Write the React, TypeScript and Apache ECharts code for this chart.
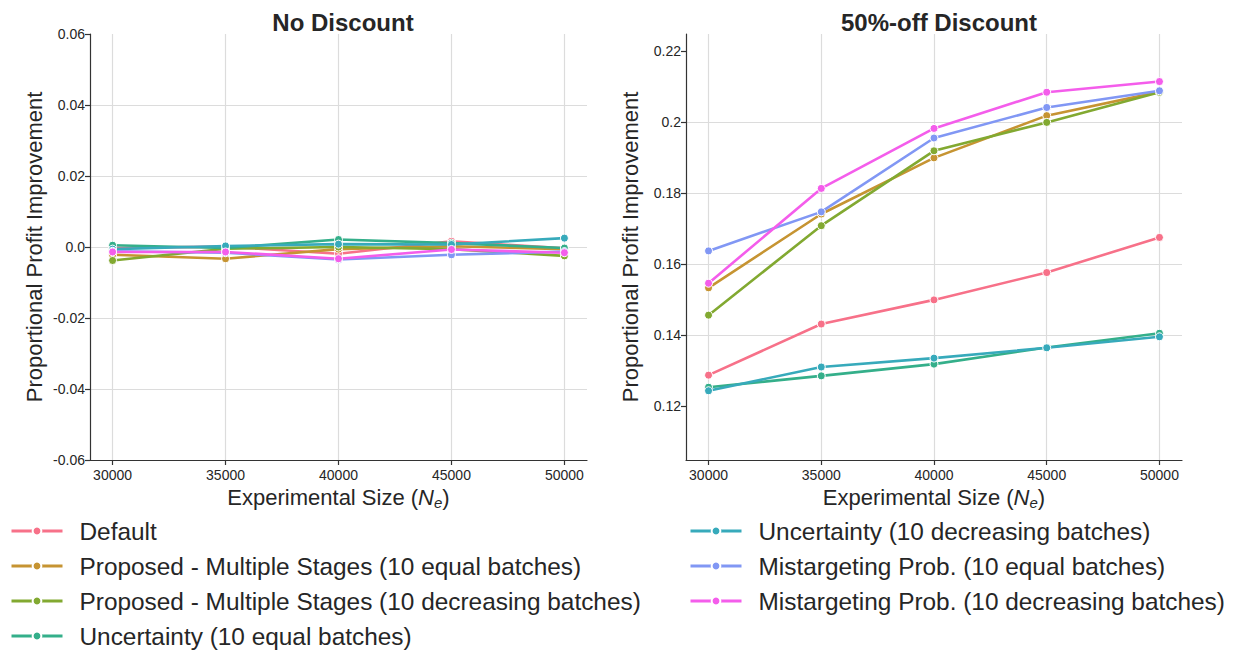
import React, { useEffect, useRef } from "react";
import * as echarts from "echarts";

// Experimental sizes on the x axis
const sizes = [30000, 35000, 40000, 45000, 50000];
const xTicks = [30000, 35000, 40000, 45000, 50000];

const seriesNames = [
  "Default",
  "Proposed - Multiple Stages (10 equal batches)",
  "Proposed - Multiple Stages (10 decreasing batches)",
  "Uncertainty (10 equal batches)",
  "Uncertainty (10 decreasing batches)",
  "Mistargeting Prob. (10 equal batches)",
  "Mistargeting Prob. (10 decreasing batches)",
];

const palette = ["#f77189", "#c69432", "#82a931", "#34af8a", "#37aabb", "#8197f4", "#f45deb"];

// No discount: proportional profit improvement
const noDefault = [-0.0003, 0.0001, -0.0019, 0.0016, -0.0004];
const noPropEqual = [-0.0022, -0.0033, -0.0006, 0.0002, -0.0006];
const noPropDecr = [-0.0038, -0.0005, 0.0, -0.0006, -0.0025];
const noUncEqual = [0.0005, -0.0003, 0.0021, 0.0011, -0.0003];
const noUncDecr = [-0.0006, 0.0003, 0.0008, 0.0007, 0.0025];
const noMisEqual = [-0.0012, -0.0016, -0.0035, -0.0022, -0.0013];
const noMisDecr = [-0.0014, -0.0014, -0.0033, -0.0007, -0.0016];

// 50%-off discount: proportional profit improvement
const offDefault = [0.1287, 0.1431, 0.1499, 0.1576, 0.1675];
const offPropEqual = [0.1533, 0.1741, 0.1899, 0.2018, 0.2085];
const offPropDecr = [0.1456, 0.1708, 0.1919, 0.1999, 0.2084];
const offUncEqual = [0.1253, 0.1285, 0.1318, 0.1365, 0.1405];
const offUncDecr = [0.1243, 0.131, 0.1335, 0.1364, 0.1395];
const offMisEqual = [0.1637, 0.1747, 0.1955, 0.2041, 0.2088];
const offMisDecr = [0.1546, 0.1813, 0.1982, 0.2084, 0.2114];

const leftYTicks = [-0.06, -0.04, -0.02, 0.0, 0.02, 0.04, 0.06];
const rightYTicks = [0.12, 0.14, 0.16, 0.18, 0.2, 0.22];

const noDiscount = [noDefault, noPropEqual, noPropDecr, noUncEqual, noUncDecr, noMisEqual, noMisDecr];
const offDiscount = [offDefault, offPropEqual, offPropDecr, offUncEqual, offUncDecr, offMisEqual, offMisDecr];

const FONT = "Liberation Sans, Arial, Helvetica, sans-serif";
const TEXT = "#262626";
const AXIS = "#333333";
const GRID = "#dcdcdc";

const fmtY = (v: number) => {
  let s = v.toFixed(2);
  if (s.endsWith("0")) s = s.slice(0, -1);
  return s;
};

function xAxisCfg(gridIndex: number) {
  return {
    type: "value",
    gridIndex,
    min: 29000,
    max: 51000,
    name: "Experimental Size ({i|N}{s|e})",
    nameLocation: "middle",
    nameGap: 24,
    nameTextStyle: {
      fontSize: 22,
      color: TEXT,
      fontFamily: FONT,
      rich: {
        i: { fontSize: 22, fontStyle: "italic", color: TEXT, fontFamily: FONT },
        s: { fontSize: 15, fontStyle: "italic", color: TEXT, fontFamily: FONT, padding: [10, 0, 0, 0] },
      },
    },
    axisLine: { show: true, onZero: false, lineStyle: { color: AXIS, width: 1.2 } },
    axisTick: { show: true, length: 5, lineStyle: { color: AXIS, width: 1.2 }, customValues: xTicks },
    axisLabel: { fontSize: 14, color: TEXT, fontFamily: FONT, margin: 8, customValues: xTicks, formatter: (v: number) => String(v) },
    splitLine: { show: true, lineStyle: { color: GRID, width: 1.2 } },
  };
}

function yAxisCfg(gridIndex: number, min: number, max: number, ticks: number[]) {
  return {
    type: "value",
    gridIndex,
    min,
    max,
    name: "Proportional Profit Improvement",
    nameLocation: "middle",
    nameGap: 45,
    nameTextStyle: { fontSize: 22, color: TEXT, fontFamily: FONT },
    axisLine: { show: true, onZero: false, lineStyle: { color: AXIS, width: 1.2 } },
    axisTick: { show: true, length: 5, lineStyle: { color: AXIS, width: 1.2 }, customValues: ticks },
    axisLabel: { fontSize: 14, color: TEXT, fontFamily: FONT, margin: 5, customValues: ticks, formatter: fmtY },
    splitLine: { show: true, showMinLine: false, showMaxLine: false, lineStyle: { color: GRID, width: 1.2 } },
  };
}

function makeSeries(values: number[][], axisIndex: number) {
  return values.map((vals, k) => ({
    type: "line",
    name: seriesNames[k],
    xAxisIndex: axisIndex,
    yAxisIndex: axisIndex,
    data: sizes.map((x, j) => [x, vals[j]]),
    symbol: "circle",
    symbolSize: 8,
    showSymbol: true,
    lineStyle: { color: palette[k], width: 2.6 },
    itemStyle: { color: palette[k], borderColor: "#ffffff", borderWidth: 1 },
    emphasis: { disabled: true },
    z: 2 + k,
  }));
}

function legendCfg(left: number, names: string[]) {
  return {
    orient: "vertical",
    left,
    top: 519,
    padding: 0,
    itemWidth: 51,
    itemHeight: 11,
    itemGap: 11,
    selectedMode: false,
    data: names,
    lineStyle: { width: 3 },
    textStyle: { fontSize: 24.4, color: TEXT, fontFamily: FONT, padding: [0, 0, 0, 12] },
  };
}

export default function App() {
  const ref = useRef<HTMLDivElement>(null);

  useEffect(() => {
    if (!ref.current) return;
    const chart = echarts.init(ref.current, null, { renderer: "svg" });
    chart.setOption({
      animation: false,
      backgroundColor: "#ffffff",
      textStyle: { fontFamily: FONT },
      title: [
        {
          text: "No Discount",
          left: 338,
          top: 5,
          textAlign: "center",
          textStyle: { fontSize: 24, fontWeight: "bold", color: TEXT, fontFamily: FONT },
        },
        {
          text: "50%-off Discount",
          left: 934,
          top: 5,
          textAlign: "center",
          textStyle: { fontSize: 24, fontWeight: "bold", color: TEXT, fontFamily: FONT },
        },
      ],
      grid: [
        { left: 90, top: 34, width: 497, height: 426 },
        { left: 686, top: 34, width: 496, height: 426 },
      ],
      xAxis: [xAxisCfg(0), xAxisCfg(1)],
      yAxis: [
        yAxisCfg(0, -0.06, 0.06, leftYTicks),
        yAxisCfg(1, 0.1048, 0.2248, rightYTicks),
      ],
      legend: [legendCfg(10, seriesNames.slice(0, 4)), legendCfg(689, seriesNames.slice(4))],
      series: [...makeSeries(noDiscount, 0), ...makeSeries(offDiscount, 1)],
    });
    return () => chart.dispose();
  }, []);

  return (
    <div
      ref={ref}
      style={{ position: "absolute", left: 0, top: 0, width: 1239, height: 652 }}
    />
  );
}
